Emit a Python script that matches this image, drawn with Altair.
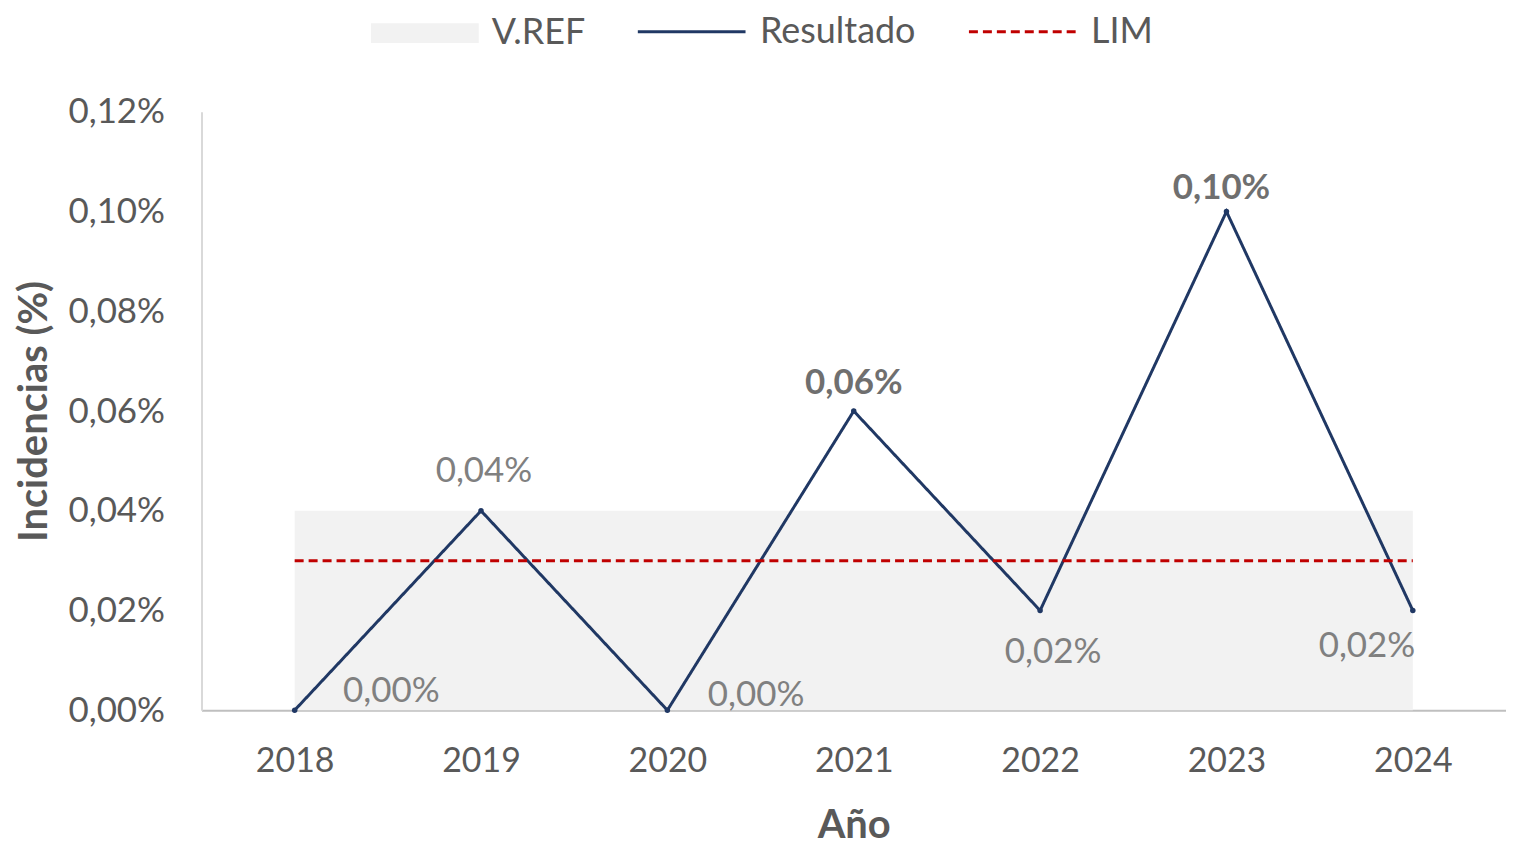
import altair as alt
import pandas as pd

years = ["2018", "2019", "2020", "2021", "2022", "2023", "2024"]
resultado = [0.00, 0.04, 0.00, 0.06, 0.02, 0.10, 0.02]
lim = [0.03, 0.03, 0.03, 0.03, 0.03, 0.03, 0.03]
vref = [0.04, 0.04, 0.04, 0.04, 0.04, 0.04, 0.04]
y_ticks = [0.00, 0.02, 0.04, 0.06, 0.08, 0.10, 0.12]
band_names = ["V.REF"]
band_colors = ["#f2f2f2"]
line_names = ["Resultado", "LIM"]
line_colors = ["#203864", "#c00000"]

rows = []
for name, vals in (("V.REF", vref), ("Resultado", resultado), ("LIM", lim)):
    for yr, v in zip(years, vals):
        rows.append({"year": yr, "serie": name, "value": v})
df = pd.DataFrame(rows)

FONT = "Lato"
GREY = "#595959"

# label placement (style): dx, dy, bold
label_style = {
    "2018": (97, -19, False),
    "2019": (3, -40, False),
    "2020": (89, -15, False),
    "2021": (0, -28, True),
    "2022": (13, 42, False),
    "2023": (-5, -24, True),
    "2024": (-46, 36, False),
}

x_enc = alt.X(
    "year:O",
    scale=alt.Scale(type="point", padding=0.5),
    axis=alt.Axis(
        title="Año", labelAngle=0, ticks=False, domainColor="#bfbfbf", domainWidth=2,
        labelFontSize=34, labelColor=GREY, labelFont=FONT, labelPadding=34,
        titleFontSize=40, titleFont=FONT, titleFontWeight="bold", titleColor=GREY,
        titlePadding=28,
    ),
)
y_scale = alt.Scale(domain=[0, 0.12], nice=False)
y_axis = alt.Axis(
    title="Incidencias (%)", values=y_ticks, grid=False, ticks=False,
    domainColor="#d9d9d9", domainWidth=2,
    labelExpr="replace(format(datum.value, '.2f'), '.', ',') + '%'",
    labelFontSize=35, labelColor=GREY, labelFont=FONT, labelPadding=37,
    titleFontSize=40, titleFont=FONT, titleFontWeight="bold", titleColor=GREY,
    titlePadding=14,
)

legend_band = alt.Legend(
    title=None, orient="none", direction="horizontal", legendX=206, legendY=-97,
    symbolType="M-3,-0.55H3V0.55H-3Z", symbolSize=1296, symbolStrokeWidth=0,
    labelFontSize=36, labelFont=FONT, labelColor=GREY, labelOffset=49,
    symbolOpacity=1,
)
legend_lines = alt.Legend(
    title=None, orient="none", direction="horizontal", legendX=472, legendY=-100,
    symbolType="M-3,0H3", symbolSize=1296, symbolStrokeWidth=3,
    labelFontSize=36, labelFont=FONT, labelColor=GREY, labelOffset=49,
    columnPadding=47, symbolOpacity=1,
)

base = alt.Chart(df)

band = base.transform_filter(alt.datum.serie == "V.REF").mark_area(opacity=1).encode(
    x=x_enc,
    y=alt.Y("value:Q", scale=y_scale, axis=y_axis),
    fill=alt.Fill("serie:N", scale=alt.Scale(domain=band_names, range=band_colors),
                  legend=legend_band),
)

lines = base.transform_filter(alt.datum.serie != "V.REF").mark_line(strokeWidth=3).encode(
    x=x_enc,
    y=alt.Y("value:Q", scale=y_scale),
    stroke=alt.Stroke("serie:N", scale=alt.Scale(domain=line_names, range=line_colors),
                      legend=legend_lines),
    strokeDash=alt.StrokeDash(
        "serie:N",
        scale=alt.Scale(domain=line_names, range=[[1, 0], [9, 5]]),
        legend=legend_lines,
    ),
)

res = base.transform_filter(alt.datum.serie == "Resultado")
res_pts = res.mark_point(filled=True, size=30, opacity=1, color="#203864").encode(
    x=x_enc, y=alt.Y("value:Q", scale=y_scale)
)

labels = []
for yr, (dx, dy, bold) in label_style.items():
    labels.append(
        res.transform_filter(alt.datum.year == yr)
        .transform_calculate(lbl="replace(format(datum.value, '.2f'), '.', ',') + '%'")
        .mark_text(
            dx=dx, dy=dy, fontSize=35, font=FONT, baseline="middle", align="center",
            fontWeight="bold" if bold else "normal",
            color="#6f6f6f" if bold else "#808080",
        )
        .encode(x=x_enc, y=alt.Y("value:Q", scale=y_scale), text="lbl:N")
    )

chart = alt.layer(band, lines, res_pts, *labels).properties(
    width=1308, height=600, padding={"left": 6, "top": 3, "right": 0, "bottom": 0}
).configure_view(stroke=None)

chart.save("out.html", embed_options={"renderer": "svg", "actions": False})
